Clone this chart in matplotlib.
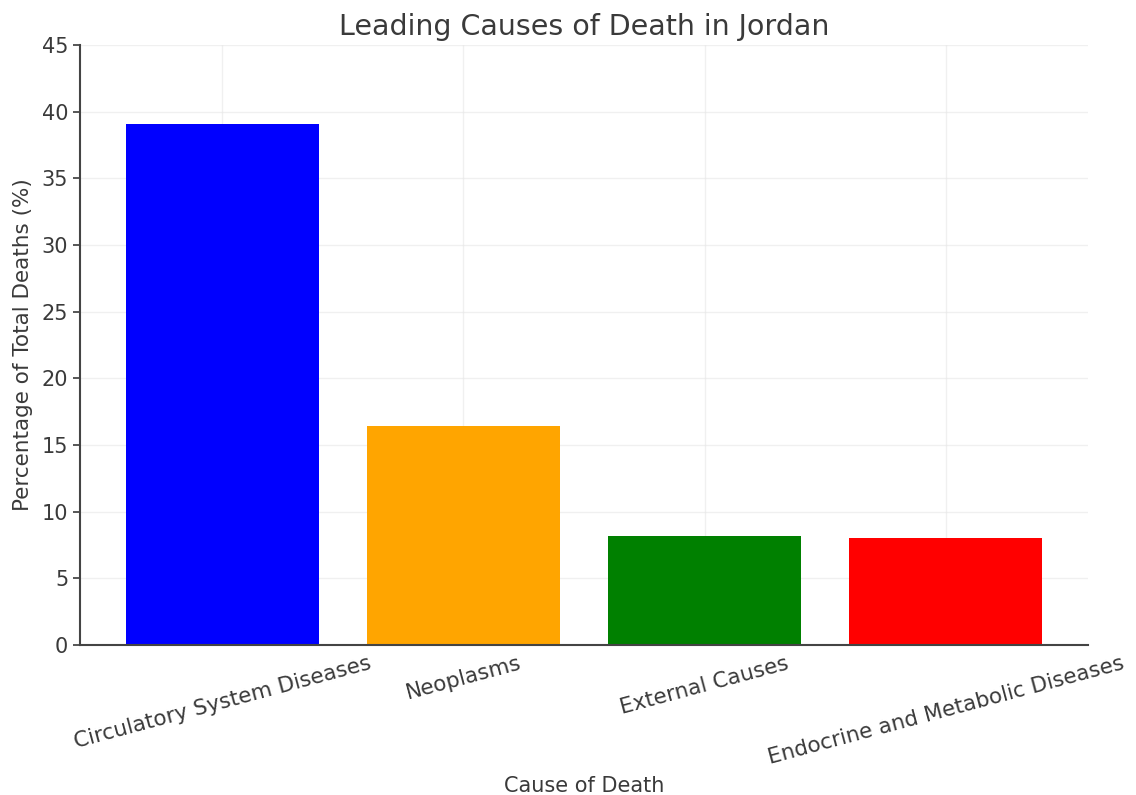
import matplotlib
matplotlib.use("Agg")
import matplotlib.pyplot as plt

causes = [
    "Circulatory System Diseases",
    "Neoplasms",
    "External Causes",
    "Endocrine and Metabolic Diseases",
]
percentages = [39.1, 16.4, 8.2, 8.0]
bar_colors = ["blue", "orange", "green", "red"]
y_ticks = [0, 5, 10, 15, 20, 25, 30, 35, 40, 45]

plt.rcParams["font.family"] = ["DejaVu Sans"]
text_color = "#3a3a3a"

fig = plt.figure(figsize=(11.36, 7.95), dpi=100)
ax = fig.add_axes([80 / 1136, 1 - 645 / 795, (1088 - 80) / 1136, (645 - 45) / 795])

ax.bar(causes, percentages, color=bar_colors, width=0.8, zorder=2)

ax.set_ylim(0, 45)
ax.set_yticks(y_ticks)
ax.grid(True, color="#e6e6e6", linewidth=1.0, zorder=0)
for line in ax.get_xgridlines() + ax.get_ygridlines():
    line.set_zorder(3)
    line.set_alpha(0.6)

for side in ("top", "right"):
    ax.spines[side].set_visible(False)
for side in ("left", "bottom"):
    ax.spines[side].set_color("#444444")
    ax.spines[side].set_linewidth(1.5)

ax.tick_params(axis="y", labelsize=15, colors=text_color, length=5, width=1.2)
ax.tick_params(axis="x", labelsize=15.5, colors=text_color, length=0, pad=6)
plt.setp(ax.get_xticklabels(), rotation=15, ha="center")

ax.set_title("Leading Causes of Death in Jordan", fontsize=20.5, color=text_color, pad=7)
ax.set_xlabel("Cause of Death", fontsize=15, color=text_color, labelpad=6)
ax.set_ylabel("Percentage of Total Deaths (%)", fontsize=15.5, color=text_color, labelpad=6)

fig.savefig("out.png", dpi=100)
